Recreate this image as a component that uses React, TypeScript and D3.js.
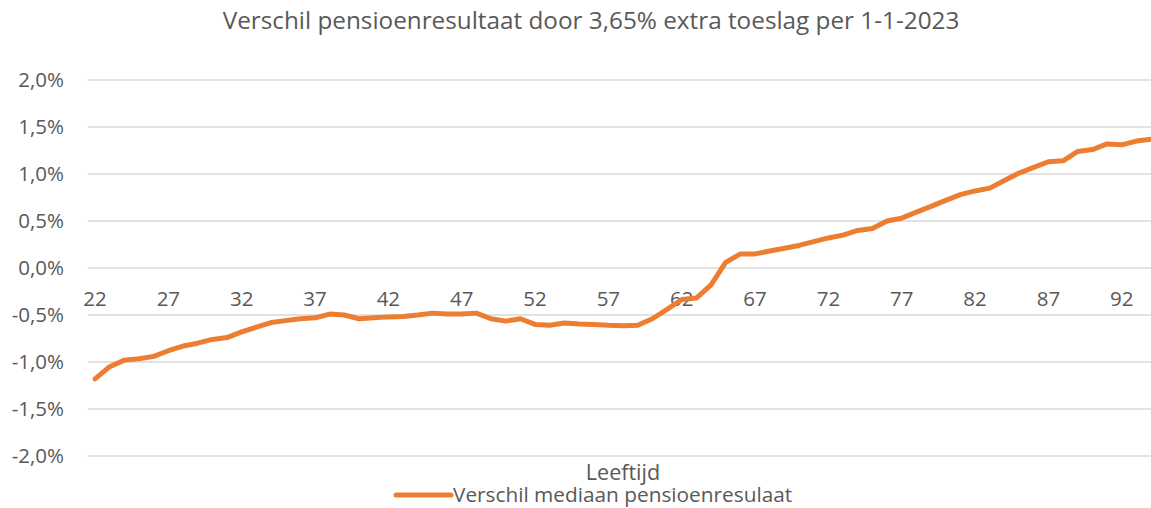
import React from 'react';
import * as d3 from 'd3';

const title = 'Verschil pensioenresultaat door 3,65% extra toeslag per 1-1-2023';
const xTitle = 'Leeftijd';
const seriesName = 'Verschil mediaan pensioenresulaat';

const ages = [
  22, 23, 24, 25, 26, 27, 28, 29, 30, 31, 32, 33, 34, 35, 36, 37, 38, 39, 40, 41,
  42, 43, 44, 45, 46, 47, 48, 49, 50, 51, 52, 53, 54, 55, 56, 57, 58, 59, 60, 61,
  62, 63, 64, 65, 66, 67, 68, 69, 70, 71, 72, 73, 74, 75, 76, 77, 78, 79, 80, 81,
  82, 83, 84, 85, 86, 87, 88, 89, 90, 91, 92, 93, 94,
];

// verschil in procentpunten
const verschil = [
  -1.18, -1.05, -0.98, -0.965, -0.94, -0.88, -0.83, -0.8, -0.76, -0.74,
  -0.68, -0.63, -0.58, -0.56, -0.54, -0.53, -0.49, -0.5, -0.54, -0.53,
  -0.52, -0.515, -0.5, -0.48, -0.49, -0.49, -0.48, -0.54, -0.565, -0.54,
  -0.6, -0.61, -0.585, -0.595, -0.6, -0.61, -0.615, -0.61, -0.54, -0.44,
  -0.335, -0.32, -0.18, 0.06, 0.15, 0.15, 0.18, 0.21, 0.24, 0.28,
  0.32, 0.35, 0.4, 0.42, 0.5, 0.53, 0.595, 0.655, 0.72, 0.78,
  0.82, 0.85, 0.93, 1.01, 1.07, 1.13, 1.14, 1.24, 1.26, 1.32,
  1.31, 1.35, 1.37,
];

const xTickLabels = [22, 27, 32, 37, 42, 47, 52, 57, 62, 67, 72, 77, 82, 87, 92];
const yTicks = [2, 1.5, 1, 0.5, 0, -0.5, -1, -1.5, -2];

const W = 1151;
const H = 508;
const font = "'Open Sans', sans-serif";
const textColor = '#595959';
const orange = '#ED7D31';

export default function App() {
  const plotLeft = 87.7;
  const band = 14.667;
  const plotRight = plotLeft + band * ages.length;

  const x = d3.scalePoint<number>()
    .domain(ages)
    .range([plotLeft, plotRight])
    .padding(0.5);

  const y = d3.scaleLinear()
    .domain([-2, 2])
    .range([456, 80]);

  const fmt = (d: number) => d.toFixed(1).replace('.', ',') + '%';

  const line = d3.line<number>()
    .x((d, i) => x(ages[i]) as number)
    .y(d => y(d));

  return (
    <svg width={W} height={H} style={{ position: 'absolute', left: 0, top: 0, background: '#fff' }}
      fontFamily={font}>
      <rect width={W} height={H} fill="#fff" />
      <text x={591} y={29} textAnchor="middle" fontSize={24.3} fill={textColor}>{title}</text>

      <g>
        {yTicks.map(t => (
          <g key={t}>
            <line x1={plotLeft} x2={plotRight} y1={y(t)} y2={y(t)} stroke="#d9d9d9" strokeWidth={1.3} />
            <text x={64} y={y(t)} dy="0.36em" textAnchor="end" fontSize={20.5} fill={textColor}>{fmt(t)}</text>
          </g>
        ))}
      </g>

      <g>
        {xTickLabels.map(a => (
          <text key={a} x={x(a)} y={305.5} textAnchor="middle" fontSize={20.5} fill={textColor}>{a}</text>
        ))}
      </g>

      <path d={line(verschil) ?? ''} fill="none" stroke={orange} strokeWidth={5} strokeLinejoin="round" strokeLinecap="round" />

      <text x={623} y={480} textAnchor="middle" fontSize={21.5} fill={textColor}>{xTitle}</text>

      <g>
        <line x1={396} x2={451} y1={495} y2={495} stroke={orange} strokeWidth={5} strokeLinecap="round" />
        <text x={453} y={502} fontSize={20.8} fill={textColor}>{seriesName}</text>
      </g>
    </svg>
  );
}
